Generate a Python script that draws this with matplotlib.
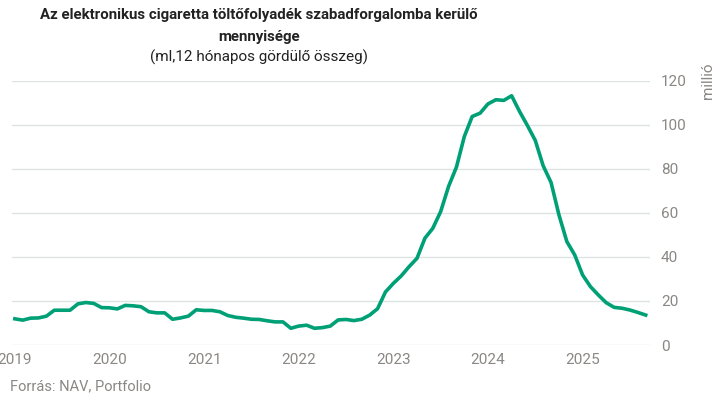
import matplotlib.pyplot as plt
import numpy as np

# monthly values, 2019-01 .. 2025-09 (million ml, 12-month rolling sum)
values = [11.9, 11.3, 12.2, 12.3, 13.1, 15.8, 15.8, 15.8, 18.7, 19.3, 18.9, 17.0,
          16.9, 16.4, 18.0, 17.8, 17.4, 15.1, 14.6, 14.6, 11.7, 12.3, 13.1, 16.0,
          15.7, 15.7, 15.1, 13.4, 12.6, 12.2, 11.7, 11.6, 11.0, 10.5, 10.5, 7.6,
          8.6, 9.0, 7.6, 7.9, 8.6, 11.4, 11.6, 11.1, 11.7, 13.6, 16.5, 24.1,
          28.0, 31.4, 35.6, 39.4, 48.5, 53.0, 60.6, 72.0, 80.8, 94.7, 103.8, 105.3,
          109.5, 111.4, 111.1, 113.2, 106.1, 99.7, 92.9, 81.4, 73.8, 59.1, 47.0, 40.9,
          31.8, 26.5, 22.7, 19.2, 17.1, 16.7, 15.9, 14.8, 13.6]
start_year = 2019
years = [2019, 2020, 2021, 2022, 2023, 2024, 2025]
yticks = [0, 20, 40, 60, 80, 100, 120]

x = start_year + np.arange(len(values)) / 12.0

plt.rcParams['font.family'] = ['Roboto', 'DejaVu Sans']
gray = '#8a8784'

fig = plt.figure(figsize=(7.15, 4.04), dpi=100)
ax = fig.add_axes([0.0168, 0.146, 0.892, 0.654])

ax.plot(x, values, color='#00a077', lw=2.6, solid_joinstyle='round')

ax.set_xlim(2018.97, 2025.71)
ax.set_ylim(0, 120)
ax.set_xticks(years)
ax.set_xticklabels([str(y) for y in years])
ax.set_yticks(yticks)
ax.yaxis.tick_right()
ax.set_ylabel('millió', color=gray, fontsize=11)
ax.yaxis.set_label_position('right')
ax.yaxis.set_label_coords(1.08, 1.0)
ax.yaxis.label.set_va('top')
ax.yaxis.label.set_ha('center')
ax.tick_params(axis='both', length=0, colors=gray, labelsize=11)
ax.tick_params(axis='y', pad=8)
ax.tick_params(axis='x', pad=6)
ax.grid(axis='y', color='#dde3e3', lw=1)
ax.set_axisbelow(True)
for s in ax.spines.values():
    s.set_visible(False)

fig.text(0.362, 0.963, 'Az elektronikus cigaretta töltőfolyadék szabadforgalomba kerülő',
         ha='center', va='center', fontsize=10.8, fontweight='bold', color='#222222')
fig.text(0.362, 0.909, 'mennyisége', ha='center', va='center',
         fontsize=10.8, fontweight='bold', color='#222222')
fig.text(0.362, 0.857, '(ml,12 hónapos gördülő összeg)', ha='center', va='center',
         fontsize=11, color='#222222')
fig.text(0.014, 0.045, 'Forrás: NAV, Portfolio', ha='left', va='center',
         fontsize=10.5, color=gray)

fig.savefig('out.png', dpi=100)
